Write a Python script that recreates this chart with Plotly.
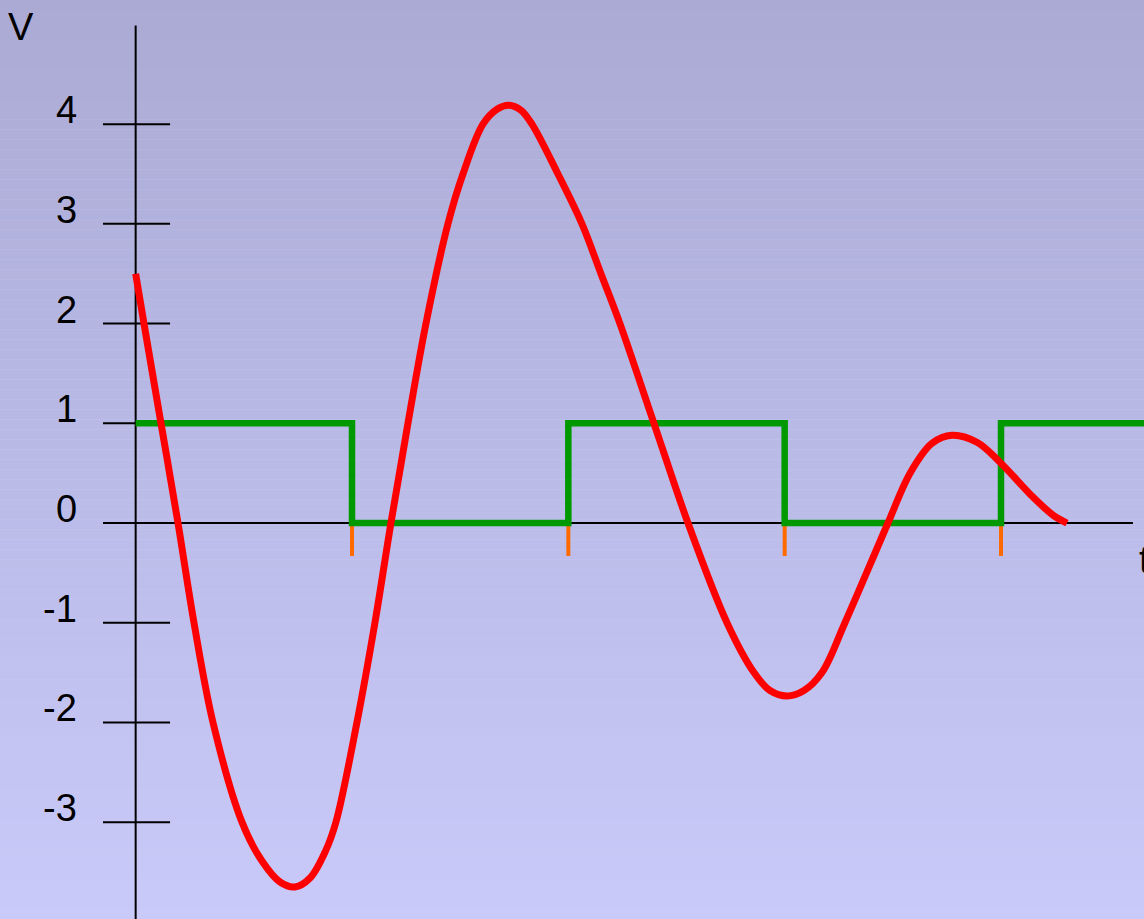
import plotly.graph_objects as go

# ---- data ----
# red response curve (t, V)
red_t = [0.0, 0.0385, 0.1171, 0.1957, 0.2696, 0.3575, 0.4915, 0.5840, 0.6672, 0.7362,
         0.8059, 0.8795, 0.9257, 1.0228, 1.1060, 1.1800, 1.2586, 1.3418, 1.4435, 1.5129,
         1.6053, 1.6702, 1.7255, 1.7811, 1.8318, 1.9521, 2.0630, 2.1508, 2.2386, 2.3958,
         2.5530, 2.7333, 2.8581, 2.9322, 3.0106, 3.0893, 3.1724, 3.2787, 3.4775, 3.5795,
         3.6812, 3.7733, 3.8889, 3.9952, 4.1478, 4.2402, 4.3050]
red_v = [2.50, 2.0, 1.0, 0.0, -1.0, -2.0, -3.0, -3.39, -3.60, -3.65,
         -3.56, -3.28, -3.0, -2.0, -1.0, 0.0, 1.0, 2.0, 3.0, 3.5,
         4.0, 4.15, 4.19, 4.14, 4.0, 3.5, 3.0, 2.5, 2.0, 1.0,
         0.0, -1.0, -1.5, -1.68, -1.735, -1.68, -1.5, -1.0, 0.0, 0.5,
         0.8, 0.88, 0.81, 0.61, 0.26, 0.08, 0.0]

# green square wave (step values)
sq_t = [0, 1, 2, 3, 4, 4.7]
sq_v = [1, 0, 1, 0, 1, 1]

# axis ticks
y_ticks = [-3, -2, -1, 0, 1, 2, 3, 4]
y_tick_labels = ["-3", "-2", "-1", "0", "1", "2", "3", "4"]
x_marks = [1, 2, 3, 4]

# ---- view ranges ----
x_range = [-0.6271, 4.661]
y_range = [-3.971, 5.245]

fig = go.Figure()

shapes = []
# vertical background gradient
N = 92
top = (170, 170, 212)
bot = (202, 202, 250)
for i in range(N):
    f = (i + 0.5) / N  # 0 bottom -> 1 top
    c = tuple(round(bot[k] + (top[k] - bot[k]) * f) for k in range(3))
    shapes.append(dict(type="rect", xref="paper", yref="paper", x0=0, x1=1,
                       y0=i / N, y1=(i + 1) / N, line=dict(width=0),
                       fillcolor="rgb(%d,%d,%d)" % c, layer="below"))

# axis lines
shapes.append(dict(type="line", xref="x", yref="y", x0=0, x1=0, y0=y_range[0], y1=4.99,
                   line=dict(color="black", width=2), layer="below"))
shapes.append(dict(type="line", xref="x", yref="y", x0=0, x1=4.61, y0=0, y1=0,
                   line=dict(color="black", width=2), layer="below"))
# y ticks
for v in y_ticks:
    shapes.append(dict(type="line", xref="x", yref="y", x0=-0.151, x1=0.159, y0=v, y1=v,
                       line=dict(color="black", width=2), layer="below"))
# orange x marks
for t in x_marks:
    shapes.append(dict(type="line", xref="x", yref="y", x0=t, x1=t, y0=0, y1=-0.33,
                       line=dict(color="#FF6A00", width=4), layer="below"))

fig.add_trace(go.Scatter(x=sq_t, y=sq_v, mode="lines",
                         line=dict(color="#009900", width=6.5, shape="hv"),
                         hoverinfo="skip", showlegend=False))
fig.add_trace(go.Scatter(x=red_t, y=red_v, mode="lines",
                         line=dict(color="#FF0000", width=7, shape="spline", smoothing=1.0,
                                   simplify=False),
                         hoverinfo="skip", showlegend=False))

annotations = []
font = dict(family="Liberation Sans, Arial, sans-serif", size=38, color="black")
for v, lab in zip(y_ticks, y_tick_labels):
    annotations.append(dict(x=-0.262, y=v, xref="x", yref="y", text=lab, showarrow=False,
                            xanchor="right", yanchor="middle", yshift=14, font=font))
annotations.append(dict(x=-0.530, y=4.974, xref="x", yref="y", text="V", showarrow=False,
                        xanchor="center", yanchor="middle", font=font))
annotations.append(dict(x=4.627, y=-0.371, xref="x", yref="y", text="t", showarrow=False,
                        xanchor="left", yanchor="middle", font=font))

fig.update_layout(
    width=1144, height=919,
    margin=dict(l=0, r=0, t=0, b=0),
    paper_bgcolor="rgb(202,202,250)",
    plot_bgcolor="rgba(0,0,0,0)",
    xaxis=dict(range=x_range, visible=False, fixedrange=True),
    yaxis=dict(range=y_range, visible=False, fixedrange=True),
    shapes=shapes,
    annotations=annotations,
    showlegend=False,
)

fig.write_html("out.html", config={"displayModeBar": False},
               post_script="document.body.style.margin='0';document.body.style.overflow='hidden';")
